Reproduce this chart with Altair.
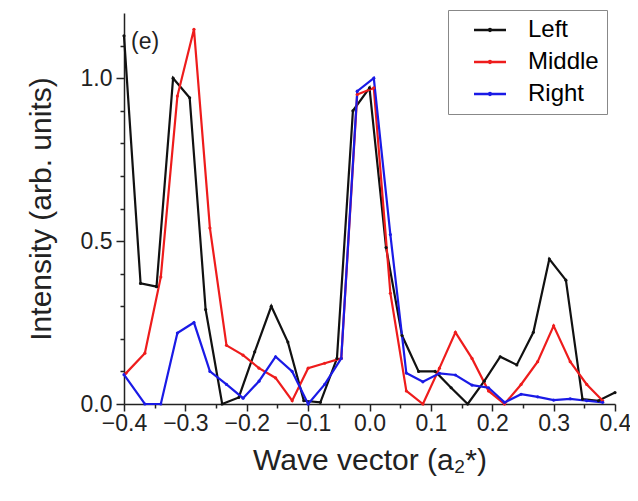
import altair as alt
import pandas as pd

# x positions (wave vector, a2*)
x_left = [-0.4, -0.373, -0.347, -0.32, -0.293, -0.267, -0.24, -0.213, -0.187, -0.16,
          -0.133, -0.107, -0.08, -0.053, -0.027, 0.0, 0.027, 0.053, 0.08, 0.107,
          0.133, 0.16, 0.187, 0.213, 0.24, 0.267, 0.293, 0.32, 0.347, 0.373, 0.4]
y_left = [1.13, 0.37, 0.36, 1.00, 0.94, 0.29, 0.00, 0.02, 0.16, 0.30,
          0.19, 0.01, 0.005, 0.14, 0.90, 0.97, 0.48, 0.21, 0.10, 0.10,
          0.05, 0.0, 0.07, 0.145, 0.12, 0.22, 0.445, 0.38, 0.015, 0.01, 0.035]

x_mid = [-0.397, -0.366, -0.34, -0.313, -0.286, -0.26, -0.233, -0.206, -0.18, -0.153,
         -0.126, -0.1, -0.073, -0.046, -0.02, 0.007, 0.034, 0.06, 0.087, 0.114,
         0.14, 0.167, 0.194, 0.22, 0.247, 0.274, 0.3, 0.327, 0.354, 0.38]
y_mid = [0.094, 0.156, 0.39, 0.945, 1.15, 0.54, 0.18, 0.15, 0.11, 0.08,
         0.01, 0.11, 0.125, 0.14, 0.95, 0.97, 0.34, 0.04, 0.0, 0.11,
         0.22, 0.14, 0.04, 0.0, 0.06, 0.13, 0.24, 0.13, 0.06, 0.01]

x_right = [-0.4, -0.366, -0.34, -0.313, -0.286, -0.26, -0.233, -0.206, -0.18, -0.153,
           -0.126, -0.1, -0.073, -0.046, -0.02, 0.007, 0.034, 0.06, 0.087, 0.114,
           0.14, 0.167, 0.194, 0.22, 0.247, 0.274, 0.3, 0.327, 0.354, 0.38]
y_right = [0.09, 0.0, 0.0, 0.218, 0.25, 0.10, 0.06, 0.018, 0.07, 0.145,
           0.10, 0.0, 0.06, 0.14, 0.96, 1.0, 0.52, 0.095, 0.068, 0.094,
           0.089, 0.058, 0.05, 0.005, 0.03, 0.022, 0.012, 0.016, 0.01, 0.005]

series = ["Left", "Middle", "Right"]
colors = ["#111111", "#ee1c1c", "#1a1ae6"]

x_major = [-0.4, -0.3, -0.2, -0.1, 0.0, 0.1, 0.2, 0.3, 0.4]
x_minor = [-0.35, -0.25, -0.15, -0.05, 0.05, 0.15, 0.25, 0.35]
y_major = [0.0, 0.5, 1.0]
y_minor = [0.1, 0.2, 0.3, 0.4, 0.6, 0.7, 0.8, 0.9, 1.1]

rows = []
for name, xs, ys in [("Left", x_left, y_left), ("Middle", x_mid, y_mid), ("Right", x_right, y_right)]:
    for i, (a, b) in enumerate(zip(xs, ys)):
        rows.append({"series": name, "q": a, "I": b, "order": i})
df = pd.DataFrame(rows)

FONT = "Liberation Sans"

xscale = alt.Scale(domain=[-0.4, 0.4], nice=False, zero=False)
yscale = alt.Scale(domain=[0, 1.2], nice=False, zero=False)

# wide line symbol with a centre dot for the legend
legend_symbol = "M-3.2,0H3.2M0.18,0A0.18,0.18 0 1,1 -0.18,0A0.18,0.18 0 1,1 0.18,0"

lines = alt.Chart(df).mark_line(
    strokeWidth=2.2, point=alt.OverlayMarkDef(size=10, filled=True)
).encode(
    x=alt.X("q:Q", scale=xscale,
            axis=alt.Axis(values=x_major, format=".1f", orient="bottom",
                          title="Wave vector (a₂*)", tickSize=7, labelPadding=1,
                          titlePadding=10, labelFontSize=23, titleFontSize=30,
                          labelFlush=False, grid=False)),
    y=alt.Y("I:Q", scale=yscale,
            axis=alt.Axis(values=y_major, format=".1f", orient="left",
                          title="Intensity (arb. units)", tickSize=8, labelPadding=4,
                          titlePadding=24, labelFontSize=23, titleFontSize=30,
                          labelFlush=False, grid=False)),
    color=alt.Color("series:N", scale=alt.Scale(domain=series, range=colors),
                    legend=alt.Legend(title=None, orient="none", legendX=324, legendY=-3,
                                      strokeColor="#888888", padding=8, rowPadding=8,
                                      labelFontSize=24, labelFont=FONT,
                                      symbolType=legend_symbol, symbolSize=100,
                                      symbolOffset=22, symbolStrokeWidth=2.5,
                                      symbolFillColor="transparent",
                                      labelOffset=26, fillColor="white")),
    order="order:Q",
)

minor = alt.Chart(df).mark_point(opacity=0).encode(
    x=alt.X("q:Q", scale=xscale,
            axis=alt.Axis(values=x_minor, labels=False, domain=False, tickSize=4,
                          title=None, orient="bottom", grid=False)),
    y=alt.Y("I:Q", scale=yscale,
            axis=alt.Axis(values=y_minor, labels=False, domain=False, tickSize=4,
                          title=None, orient="left", grid=False)),
)

chart = alt.layer(minor, lines).resolve_axis(
    x="independent", y="independent"
).properties(
    width=491, height=391,
    autosize=alt.AutoSizeParams(type="none"),
    padding={"left": 116, "top": 5, "right": 15, "bottom": 90},
    title=alt.TitleParams("(e)", anchor="start", frame="group", fontSize=23, font=FONT,
                          fontWeight="normal", color="#222222", dx=7, dy=44, offset=0),
).configure_view(
    stroke=None
).configure_axis(
    labelFont=FONT, titleFont=FONT, titleFontWeight="normal",
    domainColor="#222222", tickColor="#222222", domainWidth=1.5, tickWidth=1.5,
    labelColor="#222222", titleColor="#222222"
)

chart.save("out.html", embed_options={"renderer": "svg", "actions": False})
